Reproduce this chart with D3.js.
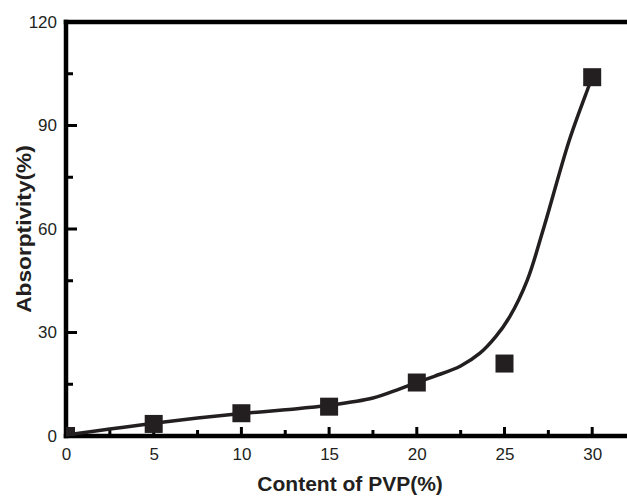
<!DOCTYPE html>
<html>
<head>
<meta charset="utf-8">
<script src="https://cdn.jsdelivr.net/npm/d3@7"></script>
<style>
  body { margin: 0; background: #fff; }
  svg { display: block; font-family: "Liberation Sans", Arial, sans-serif; }
</style>
</head>
<body>
<svg id="chart"></svg>
<script>
// measured points
const pvp = [0, 5, 10, 15, 20, 25, 30]
const absorptivity = [0, 3.5, 6.6, 8.5, 15.5, 21, 104]

// fitted curve
const fitX = [0, 2.5, 5, 7.5, 10, 12.5, 15, 17.5, 19, 20, 21, 22.5, 23.6, 24.5, 25.3, 26.3, 27.2, 28.7, 29.8, 30]
const fitY = [0.3, 2.0, 3.7, 5.2, 6.5, 7.6, 8.9, 11.0, 13.6, 15.5, 17.3, 20.3, 24, 28.8, 34.6, 45.2, 59.7, 85.8, 101.3, 104]

const xTicks = [0, 5, 10, 15, 20, 25, 30]
const xMinor = [2.5, 7.5, 12.5, 17.5, 22.5, 27.5]
const yTicks = [0, 30, 60, 90, 120]
const yMinor = [15, 45, 75, 105]

const width = 627, height = 500
const margin = {top: 22, bottom: 64, left: 66}
const ink = '#231f20'
const axisInk = '#000'

const svg = d3.select('#chart').attr('width', width).attr('height', height)

const x = d3.scaleLinear().domain([0, 32]).range([margin.left, margin.left + 17.54 * 32])
const y = d3.scaleLinear().domain([0, 120]).range([height - margin.bottom, margin.top])

svg.append('defs').append('clipPath').attr('id', 'plotArea')
  .append('rect')
    .attr('x', x(0)).attr('y', y(120))
    .attr('width', x(32) - x(0)).attr('height', y(0) - y(120))

// frame as filled bars: top, left, bottom
const lw = 4.5
const frame = svg.append('g').attr('fill', axisInk)
frame.append('rect').attr('x', x(0) - lw / 2).attr('y', y(120) - lw / 2).attr('width', width - x(0) + lw).attr('height', lw)
frame.append('rect').attr('x', x(0) - lw / 2).attr('y', y(120) - lw / 2).attr('width', lw).attr('height', y(0) - y(120) + lw)
frame.append('rect').attr('x', x(0) - lw / 2).attr('y', y(0) - lw / 2).attr('width', width - x(0) + lw).attr('height', lw)

// inward ticks as small bars
const tw = 3
frame.selectAll('.xt')
  .data(xTicks.map(v => [v, 9]).concat(xMinor.map(v => [v, 6])))
  .join('rect')
    .attr('x', d => x(d[0]) - tw / 2)
    .attr('y', d => y(0) - d[1])
    .attr('width', tw).attr('height', d => d[1])
frame.selectAll('.yt')
  .data(yTicks.map(v => [v, 11]).concat(yMinor.map(v => [v, 7])))
  .join('rect')
    .attr('x', x(0))
    .attr('y', d => y(d[0]) - tw / 2)
    .attr('width', d => d[1]).attr('height', tw)

// fit line
const line = d3.line()
  .x((d, i) => x(fitX[i]))
  .y(d => y(d))
  .curve(d3.curveCatmullRom.alpha(0.5))

svg.append('path')
  .datum(fitY)
  .attr('fill', 'none')
  .attr('stroke', ink)
  .attr('stroke-width', 3.5)
  .attr('d', line)

// squares
const s = 18
svg.append('g')
  .attr('clip-path', 'url(#plotArea)')
  .selectAll('rect')
  .data(absorptivity)
  .join('rect')
    .attr('x', (d, i) => x(pvp[i]) - s / 2)
    .attr('y', d => y(d) - s / 2)
    .attr('width', s).attr('height', s)
    .attr('fill', ink)

svg.append('g')
  .attr('transform', `translate(0, ${y(0)})`)
  .call(d3.axisBottom(x).tickValues(xTicks).tickSize(0).tickPadding(0).tickFormat(d3.format('d')))
  .call(g => g.select('.domain').remove())
  .call(g => g.selectAll('.tick line').remove())
  .call(g => g.selectAll('.tick text').attr('fill', ink).attr('font-size', 17).attr('y', 12).attr('dy', '0.71em'))

svg.append('g')
  .attr('transform', `translate(${x(0)}, 0)`)
  .call(d3.axisLeft(y).tickValues(yTicks).tickSize(0).tickPadding(0).tickFormat(d3.format('d')))
  .call(g => g.select('.domain').remove())
  .call(g => g.selectAll('.tick line').remove())
  .call(g => g.selectAll('.tick text').attr('fill', ink).attr('font-size', 17).attr('x', -9))

svg.append('text')
  .attr('x', (x(0) + x(30)) / 2 + 21)
  .attr('y', 491)
  .attr('fill', ink)
  .attr('font-size', 21)
  .attr('font-weight', 'bold')
  .attr('text-anchor', 'middle')
  .text('Content of PVP(%)')

svg.append('text')
  .attr('transform', `translate(31, ${(y(0) + y(120)) / 2}) rotate(-90) scale(1.08, 1)`)
  .attr('fill', ink)
  .attr('font-size', 21)
  .attr('font-weight', 'bold')
  .attr('text-anchor', 'middle')
  .text('Absorptivity(%)')
</script>
</body>
</html>
